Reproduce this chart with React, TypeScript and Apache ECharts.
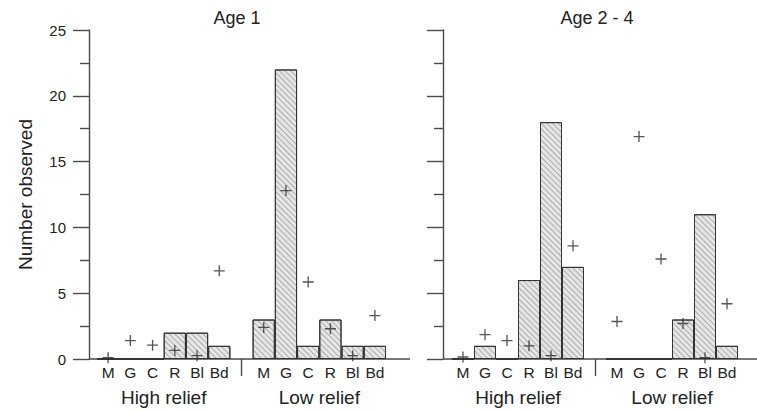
import React, { useEffect, useRef } from 'react';
import * as echarts from 'echarts';

// ---- data ----
const shelterTypes = ['M', 'G', 'C', 'R', 'Bl', 'Bd'];
const reliefGroups = ['High relief', 'Low relief'];
const panelTitles = ['Age 1', 'Age 2 - 4'];
const yAxisName = 'Number observed';

const age1HighObserved = [0, 0, 0, 2, 2, 1];
const age1LowObserved = [3, 22, 1, 3, 1, 1];
const age1HighExpected = [0.1, 1.4, 1.05, 0.65, 0.25, 6.7];
const age1LowExpected = [2.4, 12.8, 5.85, 2.3, 0.25, 3.3];

const age24HighObserved = [0, 1, 0, 6, 18, 7];
const age24LowObserved = [0, 0, 0, 3, 11, 1];
const age24HighExpected = [0.15, 1.85, 1.4, 1.0, 0.25, 8.6];
const age24LowExpected = [2.85, 16.9, 7.6, 2.7, 0.1, 4.2];

const yMin = 0;
const yMax = 25;
const yStep = 5;

// ---- layout / style ----
const FONT = '"Liberation Sans", Arial, Helvetica, sans-serif';
const TEXT = '#222';
const AXIS = '#4a4a4a';
const GRID_TOP = 30;
const GRID_H = 329;
const PANELS = [
  { axisX: 89, left: 97, width: 289, lineEnd: 410, titleX: 237 },
  { axisX: 443, left: 452, width: 286, lineEnd: 757, titleX: 597 },
];
const PLUS = 'path://M4.4,0H5.6V10H4.4Z M0,4.4H10V5.6H0Z';

const withGap = (a: any[], b: any[]) => [...a, '-', ...b];
const categories = withGap(shelterTypes, shelterTypes).map((c) => (c === '-' ? '' : c));

const observed = [
  withGap(age1HighObserved, age1LowObserved),
  withGap(age24HighObserved, age24LowObserved),
];
const expected = [
  withGap(age1HighExpected, age1LowExpected),
  withGap(age24HighExpected, age24LowExpected),
];

export default function App() {
  const ref = useRef<HTMLDivElement>(null);

  useEffect(() => {
    if (!ref.current) return;
    const chart = echarts.init(ref.current, undefined, { renderer: 'svg' });
    const baseY = GRID_TOP + GRID_H;
    const nCat = categories.length;

    const grid = PANELS.map((p) => ({
      left: p.left,
      top: GRID_TOP,
      width: p.width,
      height: GRID_H,
      containLabel: false,
    }));

    const xAxis = PANELS.map((p, i) => ({
      type: 'category',
      gridIndex: i,
      data: categories,
      boundaryGap: true,
      axisLine: { show: false },
      axisTick: {
        show: true,
        alignWithLabel: true,
        interval: (idx: number) => idx === shelterTypes.length,
        length: 17,
        lineStyle: { color: AXIS, width: 1.4 },
      },
      axisLabel: {
        interval: 0,
        margin: 5,
        color: TEXT,
        fontFamily: FONT,
        fontSize: 15.5,
      },
      splitLine: { show: false },
    }));

    const yAxis = PANELS.map((p, i) => ({
      type: 'value',
      gridIndex: i,
      min: yMin,
      max: yMax,
      interval: yStep,
      offset: p.left - p.axisX,
      name: i === 0 ? yAxisName : '',
      nameLocation: 'middle',
      nameGap: 54,
      nameTextStyle: { color: TEXT, fontFamily: FONT, fontSize: 19 },
      axisLine: { show: true, lineStyle: { color: AXIS, width: 1.4 } },
      axisTick: { show: true, inside: false, length: 16, lineStyle: { color: AXIS, width: 1.4 } },
      minorTick: { show: true, splitNumber: 2, length: 9, lineStyle: { color: AXIS, width: 1.4 } },
      axisLabel: {
        show: i === 0,
        margin: 23,
        color: TEXT,
        fontFamily: FONT,
        fontSize: 15,
      },
      splitLine: { show: false },
      minorSplitLine: { show: false },
    }));

    const series: any[] = [];
    PANELS.forEach((_, i) => {
      series.push({
        type: 'bar',
        xAxisIndex: i,
        yAxisIndex: i,
        data: observed[i],
        barCategoryGap: '0%',
        itemStyle: {
          color: '#e6e6e6',
          borderColor: '#333',
          borderWidth: 1,
          decal: {
            symbol: 'rect',
            symbolSize: 1,
            dashArrayX: [1, 0],
            dashArrayY: [1, 2.4],
            rotation: Math.PI / 4,
            color: 'rgba(90,90,90,0.42)',
          },
        },
        z: 2,
      });
      series.push({
        type: 'scatter',
        xAxisIndex: i,
        yAxisIndex: i,
        data: expected[i],
        symbol: PLUS,
        symbolSize: 11,
        itemStyle: { color: '#2b2b2b' },
        z: 5,
      });
    });

    const graphic: any[] = [];
    PANELS.forEach((p, i) => {
      graphic.push({
        type: 'line',
        shape: { x1: p.axisX, y1: baseY, x2: p.lineEnd, y2: baseY },
        style: { stroke: AXIS, lineWidth: 1.4 },
        z: 1,
      });
      graphic.push({
        type: 'text',
        x: p.titleX,
        y: 18,
        style: {
          text: panelTitles[i],
          fill: TEXT,
          fontFamily: FONT,
          fontSize: 18,
          align: 'center',
          verticalAlign: 'middle',
        },
      });
      const slot = p.width / nCat;
      [3, 10].forEach((c, g) => {
        graphic.push({
          type: 'text',
          x: p.left + slot * c,
          y: 397,
          style: {
            text: reliefGroups[g],
            fill: TEXT,
            fontFamily: FONT,
            fontSize: 19,
            align: 'center',
            verticalAlign: 'middle',
          },
        });
      });
    });

    chart.setOption({
      animation: false,
      backgroundColor: '#ffffff',
      grid,
      xAxis,
      yAxis,
      series,
      graphic,
    });

    return () => chart.dispose();
  }, []);

  return (
    <div
      ref={ref}
      style={{ position: 'fixed', left: 0, top: 0, width: 757, height: 410, background: '#fff' }}
    />
  );
}
